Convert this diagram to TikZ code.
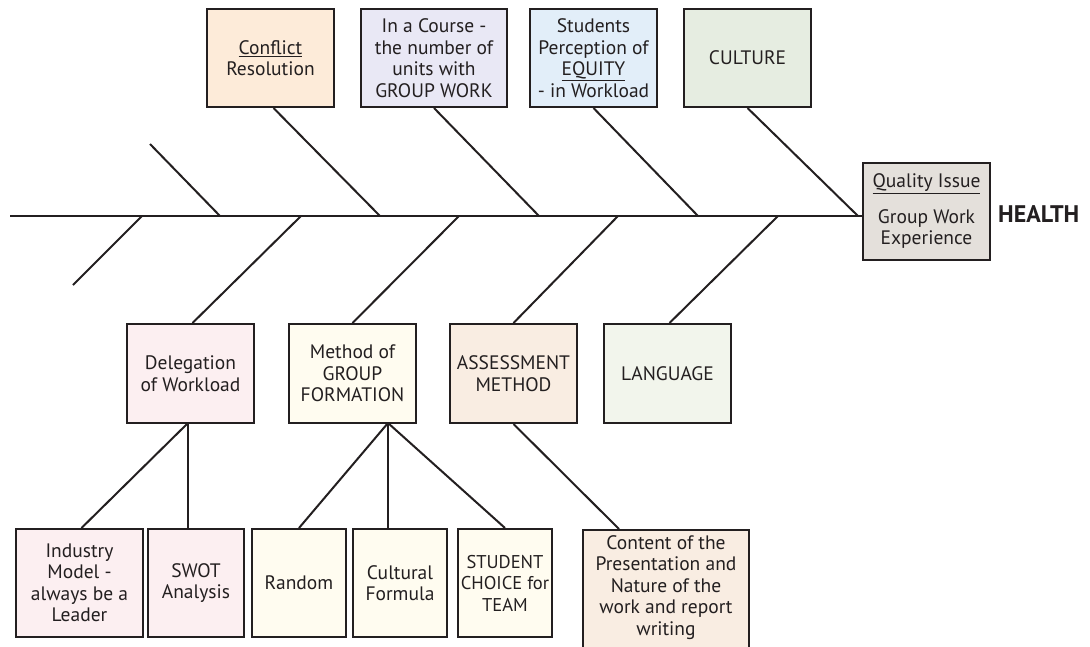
\documentclass[tikz,border=0pt]{standalone}
\usepackage{fontspec}
\setmainfont{PT Sans}
\definecolor{lineC}{HTML}{231F20}
\definecolor{cPeach}{HTML}{FDEBD9}
\definecolor{cLav}{HTML}{E9E8F5}
\definecolor{cBlue}{HTML}{E2EEF9}
\definecolor{cGreen}{HTML}{E6EDE1}
\definecolor{cGrey}{HTML}{E4E0DB}
\definecolor{cPink}{HTML}{FCEFF1}
\definecolor{cCream}{HTML}{FFFCF0}
\definecolor{cTan}{HTML}{F9EDE2}
\definecolor{cMint}{HTML}{F2F5EC}
\tikzset{
  box/.style={draw=lineC, line width=2pt, rectangle, inner sep=0pt, align=center,
    font=\fontsize{19.5}{21.5}\selectfont, text=lineC},
  bone/.style={draw=lineC, line width=2pt},
}
\begin{document}
\begin{tikzpicture}[x=1pt,y=-1pt]
\useasboundingbox (0,0) rectangle (1090,646);
% top row
\node[box, fill=cPeach, minimum width=127pt, minimum height=98pt] (conf) at (270.5,58) {\underline{Conflict}\\Resolution};
\node[box, fill=cLav, minimum width=146pt, minimum height=98pt] (course) at (434,58) {In a Course -\\the number of\\units with\\GROUP WORK};
\node[box, fill=cBlue, minimum width=127pt, minimum height=98pt] (stud) at (593.5,58) {Students\\Perception of\\\underline{EQUITY}\\- in Workload};
\node[box, fill=cGreen, minimum width=127pt, minimum height=98pt] (cult) at (747.5,58) {CULTURE};
% head
\node[box, fill=cGrey, minimum width=127pt, minimum height=97pt] (head) at (926.5,211.5) {\underline{Quality Issue}\\[14pt]Group Work\\Experience};
\node[font=\fontsize{24}{26}\selectfont\bfseries, text=lineC, anchor=west, inner sep=0pt] (health) at (998,214) {HEALTH};
% bottom row
\node[box, fill=cPink, minimum width=127pt, minimum height=99pt] (deleg) at (190.5,373.5) {Delegation\\of Workload};
\node[box, fill=cCream, minimum width=127pt, minimum height=99pt] (meth) at (352.5,373.5) {Method of\\GROUP\\FORMATION};
\node[box, fill=cTan, minimum width=127pt, minimum height=99pt] (assess) at (513.5,373.5) {ASSESSMENT\\METHOD};
\node[box, fill=cMint, minimum width=127pt, minimum height=99pt] (lang) at (667.5,373.5) {LANGUAGE};
% lowest row
\node[box, fill=cPink, minimum width=127pt, minimum height=108pt] (ind) at (79.5,583) {Industry\\Model -\\always be a\\Leader};
\node[box, fill=cPink, minimum width=96pt, minimum height=108pt] (swot) at (196,583) {SWOT\\Analysis};
\node[box, fill=cCream, minimum width=94pt, minimum height=108pt] (rand) at (299,583) {Random};
\node[box, fill=cCream, minimum width=94pt, minimum height=108pt] (cultf) at (400,583) {Cultural\\Formula};
\node[box, fill=cCream, minimum width=94pt, minimum height=108pt, font=\fontsize{18.5}{21.5}\selectfont] (choice) at (505,583) {STUDENT\\CHOICE for\\TEAM};
\node[box, fill=cTan, minimum width=166pt, minimum height=130pt, anchor=north] (content) at (666,529) {};
\node[font=\fontsize{19.5}{21.5}\selectfont, text=lineC, align=center, anchor=north, inner sep=0pt] (contentT) at (666,535) {Content of the\\Presentation and\\Nature of the\\work and report\\writing};
% spine
\coordinate (sL) at (10,216);
\draw[bone] (sL) -- (sL -| head.west);
% spine points
\coordinate (t0) at (220,216);
\coordinate (t1) at (380,216);
\coordinate (t2) at (539,216);
\coordinate (t3) at (698,216);
\coordinate (t4) at (858,216);
\coordinate (b0) at (142,216);
\coordinate (b1) at (301,216);
\coordinate (b2) at (459,216);
\coordinate (b3) at (618,216);
\coordinate (b4) at (778,216);
\coordinate (f0) at (150,144);
\coordinate (f1) at (73,285);
% top bones
\draw[bone] (f0) -- (t0);
\draw[bone] ([xshift=3pt]conf.south) -- (t1);
\draw[bone] (course.south) -- (t2);
\draw[bone] (stud.south) -- (t3);
\draw[bone] (cult.south) -- (t4);
% bottom bones
\draw[bone] (b0) -- (f1);
\draw[bone] (b1) -- ([xshift=2pt]deleg.north);
\draw[bone] (b2) -- (meth.north);
\draw[bone] (b3) -- (assess.north);
\draw[bone] (b4) -- ([xshift=2pt]lang.north);
% sub bones
\coordinate (dj) at (188,423);
\coordinate (mj) at (388,423);
\draw[bone] (dj) -- ([xshift=2pt]ind.north);
\draw[bone] (dj) -- (dj |- swot.north);
\draw[bone] (mj) -- (rand.north);
\draw[bone] (mj) -- (mj |- cultf.north);
\draw[bone] (mj) -- (choice.north);
\draw[bone] (assess.south) -- ([xshift=-47pt]content.north);
\end{tikzpicture}
\end{document}
